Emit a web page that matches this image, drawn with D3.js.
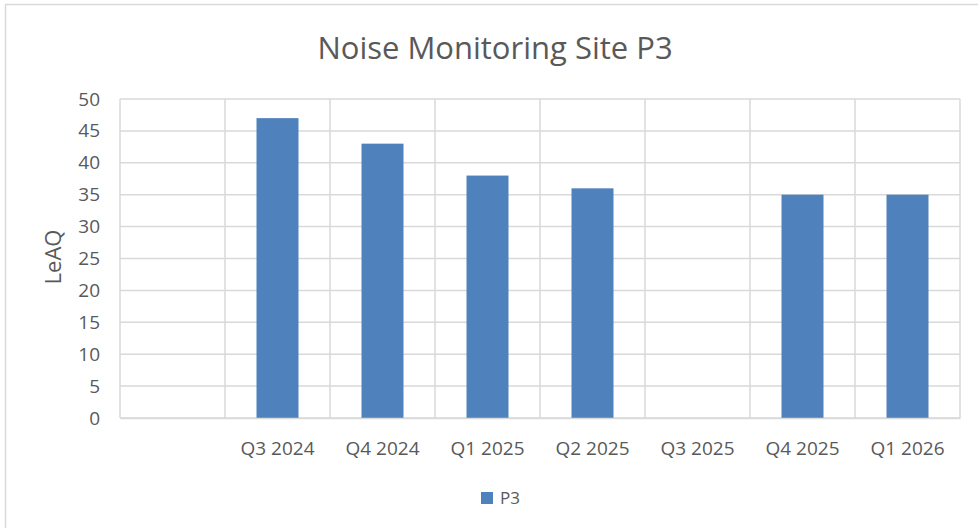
<!DOCTYPE html>
<html>
<head>
<meta charset="utf-8">
<script src="https://cdn.jsdelivr.net/npm/d3@7"></script>
<style>
  body { margin: 0; background: #fff; }
  text { font-family: "Open Sans", "Noto Sans", sans-serif; fill: #595959; }
</style>
</head>
<body>
<div id="chart"></div>
<script>
// Chart data
var categories = ["", "Q3 2024", "Q4 2024", "Q1 2025", "Q2 2025", "Q3 2025", "Q4 2025", "Q1 2026"]
var values = [null, 47, 43, 38, 36, null, 35, 35]
var yTicks = [0, 5, 10, 15, 20, 25, 30, 35, 40, 45, 50]

var width = 978, height = 528
var plot = { left: 120, top: 99, right: 960, bottom: 418 }

var svg = d3.select("#chart")
    .append("svg")
    .attr("width", width)
    .attr("height", height)

// outer chart border
svg.append("rect")
    .attr("x", 5.5).attr("y", 4.5)
    .attr("width", width + 10).attr("height", height + 10)
    .attr("fill", "#fff")
    .attr("stroke", "#d9d9d9")
    .attr("stroke-width", 1.5)

// Scales
var x = d3.scaleBand()
    .domain(categories)
    .range([plot.left, plot.right])
    .paddingInner(0).paddingOuter(0)

var y = d3.scaleLinear()
    .domain([0, 50])
    .range([plot.bottom, plot.top])

// horizontal gridlines
svg.append("g")
    .selectAll("line")
    .data(yTicks)
    .enter()
    .append("line")
    .attr("x1", plot.left).attr("x2", plot.right)
    .attr("y1", function(d) { return y(d) }).attr("y2", function(d) { return y(d) })
    .attr("stroke", "#d9d9d9")
    .attr("stroke-width", 1.5)

// vertical gridlines at category boundaries
var bounds = categories.map(function(c) { return x(c) }).concat([plot.right])
svg.append("g")
    .selectAll("line")
    .data(bounds)
    .enter()
    .append("line")
    .attr("x1", function(d) { return d }).attr("x2", function(d) { return d })
    .attr("y1", plot.top).attr("y2", plot.bottom)
    .attr("stroke", "#d9d9d9")
    .attr("stroke-width", 1.5)

// Bars
var barW = x.bandwidth() * 0.4
svg.append("g")
    .selectAll("rect")
    .data(categories.map(function(c, i) { return { cat: c, v: values[i] } }).filter(function(d) { return d.v != null }))
    .enter()
    .append("rect")
    .attr("x", function(d) { return x(d.cat) + (x.bandwidth() - barW) / 2 })
    .attr("y", function(d) { return y(d.v) })
    .attr("width", barW)
    .attr("height", function(d) { return y(0) - y(d.v) })
    .attr("fill", "#4f81bd")

// Y axis
var yAxis = svg.append("g")
    .attr("transform", "translate(" + plot.left + ",0)")
    .call(d3.axisLeft(y).tickValues(yTicks).tickSize(0).tickPadding(20))
yAxis.select(".domain").remove()
yAxis.selectAll("text")
    .attr("font-size", "19px")
    .attr("fill", "#595959")
    .style("font-family", "'Open Sans', 'Noto Sans', sans-serif")

// X axis
var xAxis = svg.append("g")
    .attr("transform", "translate(0," + plot.bottom + ")")
    .call(d3.axisBottom(x).tickSize(0).tickPadding(24))
xAxis.select(".domain")
    .attr("stroke", "#d9d9d9")
    .attr("stroke-width", 1.5)
xAxis.selectAll("text")
    .attr("font-size", "19px")
    .attr("fill", "#595959")
    .style("font-family", "'Open Sans', 'Noto Sans', sans-serif")

// Y axis title
svg.append("text")
    .attr("transform", "translate(61,257) rotate(-90)")
    .attr("text-anchor", "middle")
    .attr("font-size", "22px")
    .text("LeAQ")

// Chart title
svg.append("text")
    .attr("x", 495)
    .attr("y", 59)
    .attr("text-anchor", "middle")
    .attr("font-size", "31px")
    .text("Noise Monitoring Site P3")

// Legend
var legend = svg.append("g").attr("transform", "translate(481,492)")
legend.append("rect")
    .attr("width", 12).attr("height", 12)
    .attr("fill", "#4f81bd")
legend.append("text")
    .attr("x", 19).attr("y", 12)
    .attr("font-size", "17px")
    .text("P3")
</script>
</body>
</html>
